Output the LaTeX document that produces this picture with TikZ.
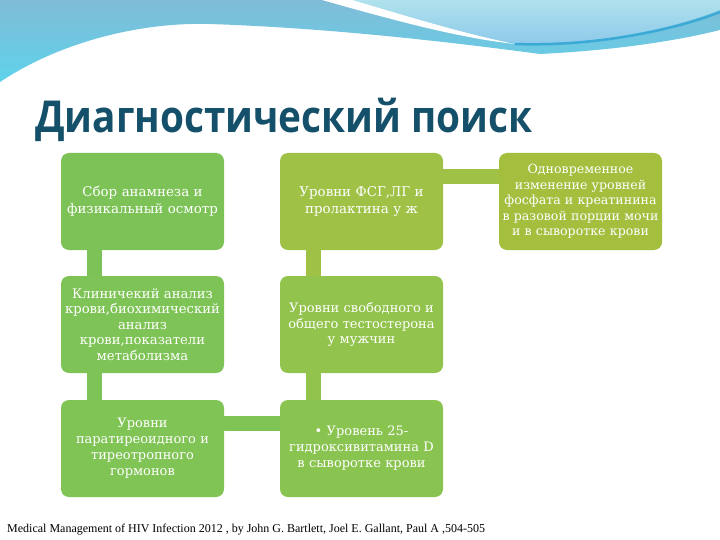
\documentclass[tikz,border=0pt]{standalone}
\usepackage{fontspec}
\setmainfont{DejaVu Serif}
\newfontfamily\titlefont[FakeStretch=0.88]{Open Sans}
\newfontfamily\reffont{Liberation Serif}
\usepackage{tikz}
\definecolor{titulo}{RGB}{20,80,105}
\definecolor{azul}{RGB}{128,188,215}
\definecolor{ciano}{RGB}{95,210,235}
\definecolor{cianoclaro}{RGB}{175,226,236}
\definecolor{azulclaro}{RGB}{140,200,235}
\definecolor{azulforte}{RGB}{60,170,215}
\definecolor{verdeA}{RGB}{124,194,86}
\definecolor{verdeB}{RGB}{158,193,70}
\definecolor{verdeC}{RGB}{126,195,86}
\definecolor{verdeD}{RGB}{146,195,76}
\definecolor{verdeE}{RGB}{128,196,86}
\definecolor{verdeF}{RGB}{138,196,80}
\definecolor{verdeG}{RGB}{164,190,62}

\begin{document}
\begin{tikzpicture}[x=1pt,y=-1pt,
	caixa/.style={rounded corners=8pt, minimum width=163pt, minimum height=97pt, text width=162pt, align=center, text=white, inner sep=0pt},
	liga/.style={line width=15pt}]
			\useasboundingbox (0,0) rectangle (720,540);
			%Fundo
			\fill[white] (0,0) rectangle (720,540);
			\shade[top color=azul, bottom color=ciano] (0,0) -- (0,82) .. controls (60,42) and (140,22) .. (210,24) .. controls (330,28) and (450,42) .. (540,54) .. controls (620,50) and (680,40) .. (720,30) -- (720,0) -- cycle;
			\shade[top color=cianoclaro, bottom color=azulclaro] (345,0) .. controls (420,20) and (470,38) .. (515,43) .. controls (600,46) and (680,26) .. (720,10) -- (720,0) -- cycle;
			\fill[white] (322,0) .. controls (400,22) and (460,38) .. (515,44) .. controls (460,33) and (400,14) .. (352,0) -- cycle;
			\draw[azulforte, line width=2.5pt] (515,44) .. controls (600,47) and (680,28) .. (720,12);
			
			%Titulo
			\node[anchor=base west, inner sep=0pt, text=titulo, font=\titlefont\bfseries\fontsize{44}{44}\selectfont] (titulo) at (35,133) {Диагностический поиск};
			
			%Caixas
			\node[caixa, fill=verdeA, font=\fontsize{13.4}{17}\selectfont] (anamnese) at (142.5,201.5) {Сбор анамнеза и\\физикальный осмотр};
			\node[caixa, fill=verdeB, font=\fontsize{13.4}{17}\selectfont] (fsg) at (361.5,201.5) {Уровни ФСГ,ЛГ и\\пролактина у ж};
			\node[caixa, fill=verdeG, font=\fontsize{12.6}{15.5}\selectfont] (fosfato) at (580.5,201.5) {Одновременное\\изменение уровней\\фосфата и креатинина\\в разовой порции мочи\\и в сыворотке крови};
			\node[caixa, fill=verdeC, font=\fontsize{13.2}{15.5}\selectfont] (sangue) at (142.5,324.5) {Клиничекий анализ\\крови,биохимический\\анализ\\крови,показатели\\метаболизма};
			\node[caixa, fill=verdeD, font=\fontsize{13}{15.5}\selectfont] (testo) at (361.5,324.5) {Уровни свободного и\\общего тестостерона\\у мужчин};
			\node[caixa, fill=verdeE, font=\fontsize{13}{16}\selectfont] (hormonio) at (142.5,448.5) {Уровни\\паратиреоидного и\\тиреотропного\\гормонов};
			\node[caixa, fill=verdeF, font=\fontsize{13}{16}\selectfont] (vitamina) at (361.5,448.5) {• Уровень 25-\\гидроксивитамина D\\в сыворотке крови};
			
			%Ligacoes
			\draw[liga, verdeA] ([xshift=33.5pt]anamnese.south west) -- ([xshift=33.5pt]sangue.north west);
			\draw[liga, verdeC] ([xshift=33.5pt]sangue.south west) -- ([xshift=33.5pt]hormonio.north west);
			\draw[liga, verdeB] ([xshift=33.5pt]fsg.south west) -- ([xshift=33.5pt]testo.north west);
			\draw[liga, verdeD] ([xshift=33.5pt]testo.south west) -- ([xshift=33.5pt]vitamina.north west);
			\draw[liga, verdeB] ([yshift=-23.5pt]fsg.north east) -- ([yshift=-23.5pt]fosfato.north west);
			\draw[liga, verdeE] ([yshift=-24pt]hormonio.north east) -- ([yshift=-24pt]vitamina.north west);
			
			%Referencia
			\node[anchor=base west, inner sep=0pt, font=\reffont\fontsize{12}{12}\selectfont] (ref) at (7,532) {Medical Management of HIV Infection 2012 , by John G. Bartlett, Joel E. Gallant, Paul A ,504-505};
\end{tikzpicture}
\end{document}
